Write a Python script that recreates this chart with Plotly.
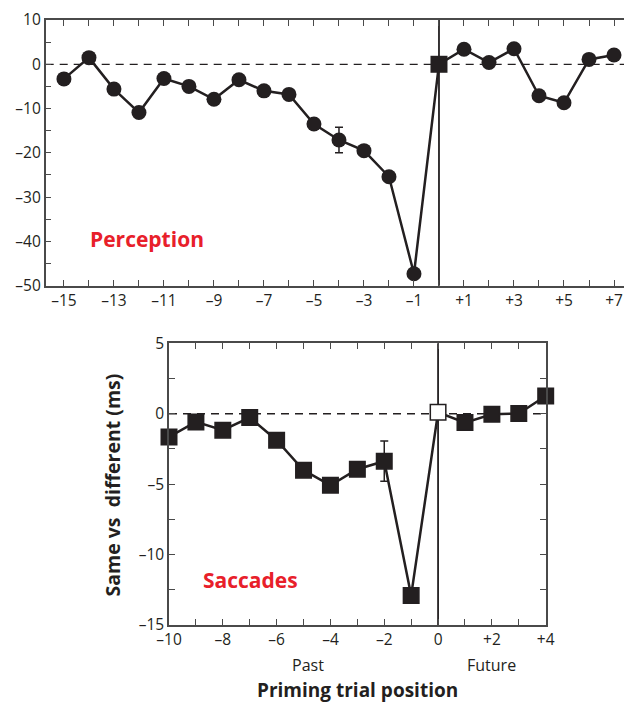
import plotly.graph_objects as go

# ---------------- data ----------------
perception_x = list(range(-15, 8))
perception_y = [-3.3, 1.5, -5.6, -10.9, -3.2, -5.0, -7.9, -3.5, -6.0, -6.8,
                -13.5, -17.1, -19.5, -25.4, -47.3, 0.0,
                3.4, 0.4, 3.5, -7.1, -8.7, 1.1, 2.1]
perception_err_x = [-4]
perception_err_y = [-17.1]
perception_err = [2.9]

saccade_x = list(range(-10, 5))
saccade_y = [-1.65, -0.58, -1.17, -0.27, -1.88, -4.01, -5.08, -3.94, -3.37,
             -12.9, 0.1, -0.63, -0.04, 0.02, 1.26]
saccade_err_x = [-2]
saccade_err_y = [-3.37]
saccade_err = [1.43]

top_xtick_vals = [-15, -13, -11, -9, -7, -5, -3, -1, 1, 3, 5, 7]
top_xtick_text = ["–15", "–13", "–11", "–9", "–7", "–5", "–3", "–1", "+1", "+3", "+5", "+7"]
top_ytick_vals = [10, 0, -10, -20, -30, -40, -50]
top_ytick_text = ["10", "0", "–10", "–20", "–30", "–40", "–50"]

bot_xtick_vals = [-10, -8, -6, -4, -2, 0, 2, 4]
bot_xtick_text = ["–10", "–8", "–6", "–4", "–2", "0", "+2", "+4"]
bot_ytick_vals = [5, 0, -5, -10, -15]
bot_ytick_text = ["5", "0", "–5", "–10", "–15"]

# ---------------- style ----------------
W, H = 624, 704
INK = "#231f20"
AX = "#4a4a4a"
RED = "#e8202a"
FONT = "Open Sans"

def px(x):
    return x / W

def py(y):
    return 1 - y / H

fig = go.Figure()

# Perception
p_symbols = ["square" if x == 0 else "circle" for x in perception_x]
p_sizes = [17 if x == 0 else 15 for x in perception_x]
fig.add_trace(go.Scatter(
    x=perception_err_x, y=perception_err_y, mode="markers",
    marker=dict(size=1, color=INK),
    error_y=dict(type="data", array=perception_err, color=INK, thickness=1.5, width=4),
    xaxis="x", yaxis="y", hoverinfo="skip"))
fig.add_trace(go.Scatter(
    x=perception_x, y=perception_y, mode="lines+markers", cliponaxis=False,
    line=dict(color=INK, width=2.5),
    marker=dict(symbol=p_symbols, size=p_sizes, color=INK, opacity=1, line=dict(width=0)),
    xaxis="x", yaxis="y"))

# Saccades
s_fill = ["white" if x == 0 else INK for x in saccade_x]
fig.add_trace(go.Scatter(
    x=saccade_err_x, y=saccade_err_y, mode="markers",
    marker=dict(size=1, color=INK),
    error_y=dict(type="data", array=saccade_err, color=INK, thickness=1.5, width=4),
    xaxis="x2", yaxis="y2", hoverinfo="skip"))
fig.add_trace(go.Scatter(
    x=saccade_x, y=saccade_y, mode="lines+markers", cliponaxis=False,
    line=dict(color=INK, width=2.5),
    marker=dict(symbol="square", size=15.5, color=s_fill, opacity=1, line=dict(color=INK, width=1.5)),
    xaxis="x2", yaxis="y2"))

tickfont = dict(family=FONT, size=15.5, color=INK)

common_axis = dict(showgrid=False, zeroline=False, showline=True, linecolor=AX,
                   linewidth=1.5, ticks="inside", ticklen=6, tickwidth=1.3,
                   tickcolor=AX, tickfont=tickfont, automargin=False)

fig.update_layout(
    width=W, height=H, margin=dict(l=0, r=0, t=0, b=0),
    paper_bgcolor="white", plot_bgcolor="white", showlegend=False,
    xaxis=dict(domain=[px(45.7), 1.0], range=[-15.73, 7.40], anchor="y",
               tickmode="array", tickvals=top_xtick_vals, ticktext=top_xtick_text,
               mirror="ticks",
               minor=dict(dtick=1, tick0=0, ticks="inside", ticklen=6, tickcolor=AX, tickwidth=1.3),
               **common_axis),
    yaxis=dict(domain=[py(285.7), py(20)], range=[-50, 10], anchor="x",
               tickmode="array", tickvals=top_ytick_vals, ticktext=top_ytick_text,
               mirror=False,
               minor=dict(dtick=5, tick0=0, ticks="inside", ticklen=6, tickcolor=AX, tickwidth=1.3),
               **common_axis),
    xaxis2=dict(domain=[px(169), px(545.7)], range=[-10, 4], anchor="y2",
                tickmode="array", tickvals=bot_xtick_vals, ticktext=bot_xtick_text,
                mirror="ticks",
                minor=dict(dtick=1, tick0=0, ticks="inside", ticklen=6, tickcolor=AX, tickwidth=1.3),
                **common_axis),
    yaxis2=dict(domain=[py(625), py(343.3)], range=[-15, 5], anchor="x2",
                tickmode="array", tickvals=bot_ytick_vals, ticktext=bot_ytick_text,
                mirror="ticks",
                minor=dict(dtick=2.5, tick0=0, ticks="inside", ticklen=6, tickcolor=AX, tickwidth=1.3),
                **common_axis),
)

# reference lines
DASH = "8px,6px"
fig.add_shape(type="line", xref="x domain", yref="y", x0=0, x1=1, y0=0, y1=0,
              line=dict(color=INK, width=1.3, dash=DASH), layer="below")
fig.add_shape(type="line", xref="x", yref="y domain", x0=0, x1=0, y0=0, y1=1,
              line=dict(color=INK, width=1.8), layer="below")
fig.add_shape(type="line", xref="x2 domain", yref="y2", x0=0, x1=1, y0=0, y1=0,
              line=dict(color=INK, width=1.3, dash=DASH), layer="below")
fig.add_shape(type="line", xref="x2", yref="y2 domain", x0=0, x1=0, y0=0, y1=1,
              line=dict(color=INK, width=1.8), layer="below")

def label(text, x, y, size, bold=False, color=INK, angle=0):
    fig.add_annotation(text=f"<b>{text}</b>" if bold else text,
                       xref="paper", yref="paper", x=px(x), y=py(y),
                       xanchor="center", yanchor="middle", showarrow=False,
                       textangle=angle,
                       font=dict(family=FONT, size=size, color=color))

label("Perception", 147, 239, 21, bold=True, color=RED)
label("Saccades", 250.5, 579.5, 21, bold=True, color=RED)
label("Past", 308, 665, 16)
label("Future", 491.5, 665, 16)
label("Priming trial position", 357, 690, 19, bold=True)
label("Same vs&nbsp; different (ms)", 111.5, 485, 19.5, bold=True, angle=-90)

fig.write_html(
    "out.html",
    config={"displayModeBar": False},
    post_script="document.body.style.margin='0';document.body.style.padding='0';"
                "document.body.style.overflow='hidden';",
)
